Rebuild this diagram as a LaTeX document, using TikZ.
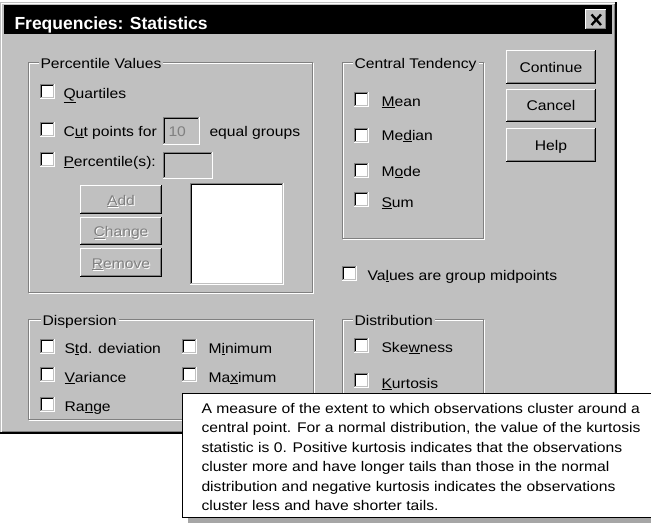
\documentclass[tikz,border=0pt]{standalone}
\usepackage{fontspec}
\setmainfont{Liberation Sans}[FakeStretch=1.12]
\newfontfamily\ttlfont{Liberation Sans}
\definecolor{dlg}{HTML}{C0C0C0}
\definecolor{dkg}{HTML}{808080}
% raised 3D button
\newcommand{\rais}[4]{%
 \fill[dlg] (#1,#2) rectangle (#3,#4);
 \draw[white] (#1+0.5,#4-1) -- (#1+0.5,#2+0.5) -- (#3-1,#2+0.5);
 \draw[black] (#1,#4-0.5) -- (#3-0.5,#4-0.5) -- (#3-0.5,#2);
 \draw[dkg] (#1+1,#4-1.5) -- (#3-1.5,#4-1.5) -- (#3-1.5,#2+1);
}
% sunken 3D field
\newcommand{\sunk}[5]{%
 \fill[#5] (#1,#2) rectangle (#3,#4);
 \draw[dkg] (#1+0.5,#4) -- (#1+0.5,#2+0.5) -- (#3,#2+0.5);
 \draw[black] (#1+1.5,#4-1) -- (#1+1.5,#2+1.5) -- (#3-1,#2+1.5);
 \draw[white] (#1,#4-0.5) -- (#3-0.5,#4-0.5) -- (#3-0.5,#2);
 \draw[dlg] (#1+1,#4-1.5) -- (#3-1.5,#4-1.5) -- (#3-1.5,#2+1);
}
% checkbox with top-left corner and size 15
\newcommand{\chk}[2]{\sunk{#1}{#2}{#1+15}{#2+15}{white}}
% etched group frame
\newcommand{\etch}[4]{%
 \draw[white] (#1+1,#2+1) rectangle (#3+1,#4+1);
 \draw[dkg] (#1,#2) rectangle (#3,#4);
}
% disabled (embossed) text
\newcommand{\dis}[1]{\makebox[0pt][l]{\hspace{1pt}\raisebox{-1pt}{\color{white}#1}}{\color{dkg}#1}}
\begin{document}
\begin{tikzpicture}[x=1pt,y=-1pt,line width=1pt,
  every node/.style={font=\fontsize{14}{19.4}\selectfont, inner sep=0pt},
  lbl/.style={anchor=base west},
  grp/.style={anchor=base west, fill=dlg, inner xsep=2pt, inner ysep=0pt},
  btn/.style={anchor=base}]
\useasboundingbox (0,0) rectangle (651,528);
\fill[white] (0,0) rectangle (651,528);
% dialog
\fill[dlg] (0,2) rectangle (617,434);
\draw[white] (1.5,432) -- (1.5,3.5) -- (615,3.5);
\draw[black,line width=2pt] (0,433) -- (616,433) -- (616,2);
\draw[dkg] (1.5,431.5) -- (614.5,431.5) -- (614.5,3.5);
% title bar
\fill[black] (4,5) rectangle (612,34);
\node[lbl, text=white, font=\ttlfont\bfseries\fontsize{17.5}{20}\selectfont] (title) at (14,29) {Frequencies: Statistics};
\rais{585}{9}{607}{30}
\draw[line width=2.3pt] (591.5,14.5) -- (601,25) (601,14.5) -- (591.5,25);
% Percentile Values group
\etch{28}{62}{312}{292}
\node[grp] (gpv) at (38,68) {Percentile Values};
\chk{40}{84}
\node[lbl] (quart) at (63,98) {\underline{Q}uartiles};
\chk{40}{122}
\node[lbl] (cut) at (63,136) {C\underline{u}t points for};
\sunk{163}{117}{200}{145}{dlg}
\node[lbl, text=dkg] (ten) at (168,136) {10};
\node[lbl] (eq) at (209,136) {equal groups};
\chk{40}{152}
\node[lbl] (pct) at (63,166) {\underline{P}ercentile(s):};
\sunk{163}{152}{213}{179}{dlg}
\rais{80}{185}{162}{214}
\node[btn] (add) at (121,205) {\dis{\underline{A}dd}};
\rais{80}{217}{162}{245}
\node[btn] (chg) at (121,236.5) {\dis{\underline{C}hange}};
\rais{80}{248}{162}{277}
\node[btn] (rem) at (121,268) {\dis{\underline{R}emove}};
\sunk{190}{183}{284}{285}{white}
% Central Tendency group
\etch{342}{62}{483}{238}
\node[grp] (gct) at (352,68) {Central Tendency};
\chk{354}{92}
\node[lbl] (mean) at (381,106) {\underline{M}ean};
\chk{354}{128}
\node[lbl] (median) at (381,140) {Me\underline{d}ian};
\chk{354}{163}
\node[lbl] (mode) at (381,176) {M\underline{o}de};
\chk{354}{192}
\node[lbl] (sum) at (381,207) {\underline{S}um};
% buttons
\rais{506}{50}{596}{84}
\node[btn] (cont) at (551,72.5) {Continue};
\rais{506}{89}{596}{122}
\node[btn] (canc) at (551,110.5) {Cancel};
\rais{506}{128}{596}{162}
\node[btn] (help) at (551,150) {Help};
% group midpoints
\chk{342}{266}
\node[lbl] (vals) at (367,280) {Va\underline{l}ues are group midpoints};
% Dispersion group
\etch{28}{319}{313}{419}
\node[grp] (gdisp) at (40,325) {Dispersion};
\chk{40}{339}
\node[lbl] (std) at (64,353) {S\underline{t}d. deviation};
\chk{40}{367}
\node[lbl] (var) at (64,382) {\underline{V}ariance};
\chk{40}{397}
\node[lbl] (range) at (64,411) {Ra\underline{n}ge};
\chk{182}{339}
\node[lbl] (min) at (208,353) {M\underline{i}nimum};
\chk{182}{367}
\node[lbl] (max) at (208,382) {Ma\underline{x}imum};
\chk{182}{397}
% Distribution group
\etch{342}{319}{483}{428}
\node[grp] (gdist) at (352,325) {Distribution};
\chk{354}{338}
\node[lbl] (skew) at (381,352) {Ske\underline{w}ness};
\chk{354}{373}
\node[lbl] (kurt) at (381,388) {\underline{K}urtosis};
% tooltip
\fill[gray!70] (188,517) rectangle (660,523);
\draw[black, fill=white] (182.5,393.5) rectangle (660,517);
\node[anchor=north west, align=left] (tip) at (201,402.8) {A measure of the extent to which observations cluster around a\\central point. For a normal distribution, the value of the kurtosis\\statistic is 0. Positive kurtosis indicates that the observations\\cluster more and have longer tails than those in the normal\\distribution and negative kurtosis indicates the observations\\cluster less and have shorter tails.};
\end{tikzpicture}
\end{document}
